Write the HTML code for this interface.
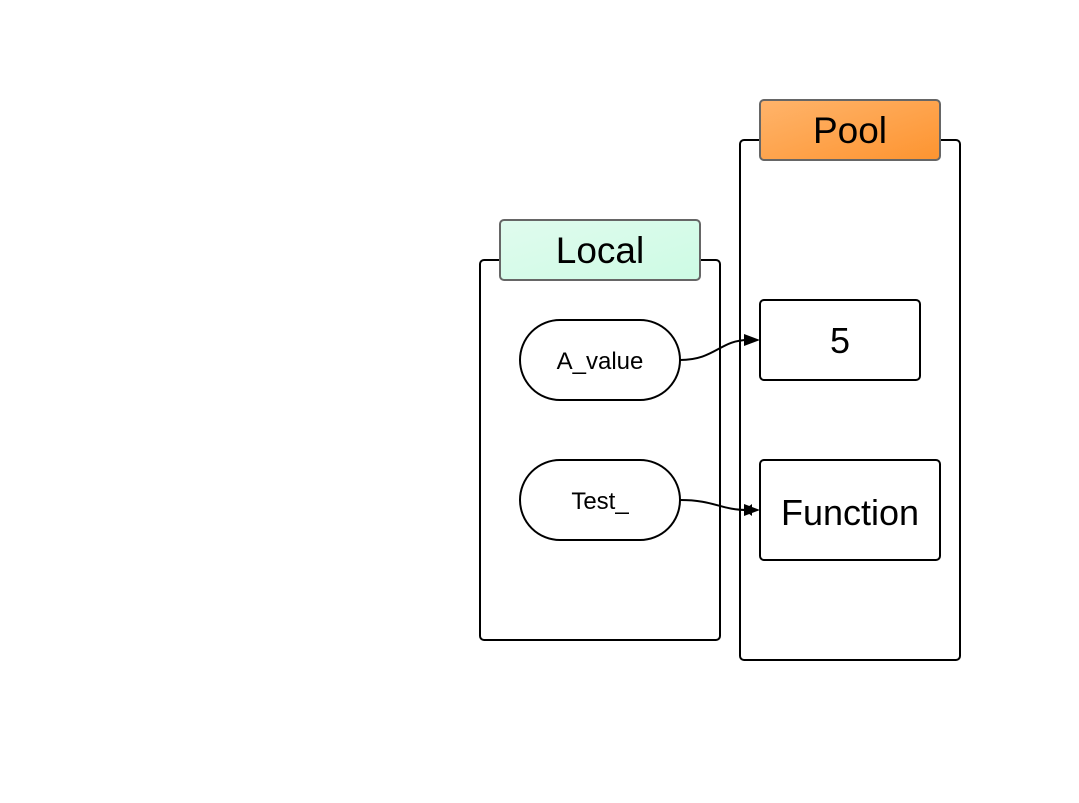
<!DOCTYPE html>
<html><head><style>html,body{margin:0;padding:0;background:#fff;}</style></head>
<body>
<svg width="1079" height="798" xmlns="http://www.w3.org/2000/svg" font-family="Liberation Sans, sans-serif">
<defs>
<linearGradient id="g1" x1="0" y1="0" x2="1" y2="1"><stop offset="0" stop-color="#ffb46b"/><stop offset="1" stop-color="#fd9430"/></linearGradient>
<linearGradient id="g2" x1="0" y1="0" x2="1" y2="1"><stop offset="0" stop-color="#e0fbee"/><stop offset="1" stop-color="#cdfbe4"/></linearGradient>
</defs>
<rect width="1079" height="798" fill="#fff"/>
<rect x="480" y="260" width="240" height="380" rx="4" fill="#fff" stroke="#000" stroke-width="2"/>
<rect x="740" y="140" width="220" height="520" rx="4" fill="#fff" stroke="#000" stroke-width="2"/>
<rect x="500" y="220" width="200" height="60" rx="4" fill="url(#g2)" stroke="#666" stroke-width="2"/>
<text x="600" y="263" font-size="37" text-anchor="middle">Local</text>
<rect x="760" y="100" width="180" height="60" rx="4" fill="url(#g1)" stroke="#666" stroke-width="2"/>
<text x="850" y="143" font-size="37" text-anchor="middle">Pool</text>
<rect x="520" y="320" width="160" height="80" rx="40" fill="#fff" stroke="#000" stroke-width="2"/>
<text x="600" y="369" font-size="24" text-anchor="middle">A_value</text>
<rect x="520" y="460" width="160" height="80" rx="40" fill="#fff" stroke="#000" stroke-width="2"/>
<text x="600" y="509" font-size="24" text-anchor="middle">Test_</text>
<rect x="760" y="300" width="160" height="80" rx="4" fill="#fff" stroke="#000" stroke-width="2"/>
<text x="840" y="353" font-size="36" text-anchor="middle">5</text>
<rect x="760" y="460" width="180" height="100" rx="4" fill="#fff" stroke="#000" stroke-width="2"/>
<text x="850" y="525" font-size="36" text-anchor="middle">Function</text>
<path d="M680 360 C715 360 720 340 748 340" fill="none" stroke="#000" stroke-width="2"/>
<polygon points="760,340 744,334 744,346" fill="#000"/>
<path d="M680 500 C715 500 720 510 748 510" fill="none" stroke="#000" stroke-width="2"/>
<polygon points="760,510 744,504 744,516" fill="#000"/>
<polygon points="744,510 752,504 752,516" fill="#000"/>
</svg>
</body></html>
